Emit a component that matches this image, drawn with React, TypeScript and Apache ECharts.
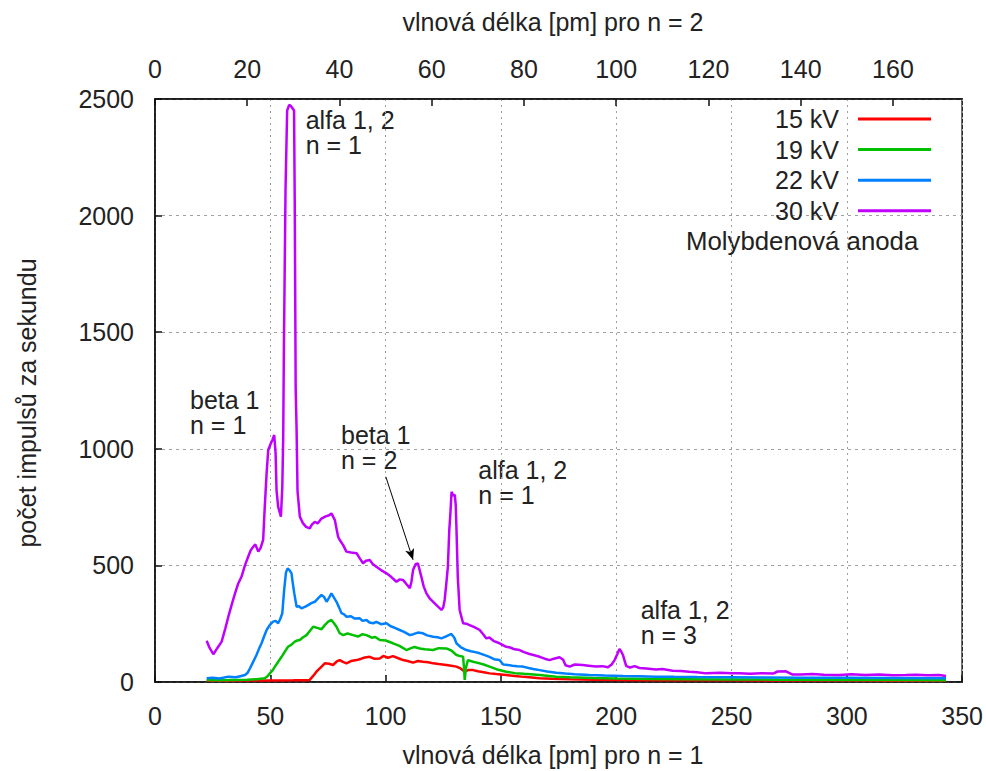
import React, { useEffect, useRef } from "react";
import * as echarts from "echarts";

// wavelength [pm] (n = 1), counts per second
const kv15: [number, number][] = [
  [22.4, 5], [30, 5], [40, 6], [50, 6], [60, 7], [65, 8], [67.1, 9], [68.5, 25], [70, 44], [71.8, 62],
  [73.6, 80], [75.5, 78], [77.2, 73], [78.8, 88], [80.1, 94], [81.5, 86], [83, 80], [85, 90], [87.4, 94],
  [89.5, 100], [91, 105], [93.1, 108], [95, 100], [97.5, 101], [99, 112], [101, 104], [103.2, 111],
  [105.5, 102], [107.6, 94], [109.5, 90], [111.9, 83], [114, 90], [116.2, 87], [118.5, 85], [120.6, 80],
  [123, 77], [126.3, 73], [128.5, 70], [130.7, 66], [132.5, 58], [134.3, 44], [136, 52], [137.9, 51],
  [140, 46], [142.5, 42], [145.1, 37], [148, 34], [152.3, 30], [156, 26], [160, 22], [166.8, 16],
  [172, 14], [180, 12], [190, 10], [200, 9], [215, 8], [230, 7], [250, 7], [270, 6], [300, 6], [320, 5], [343, 5],
];

const kv19: [number, number][] = [
  [22.4, 9], [28, 8], [34, 9], [40, 10], [44, 12], [47.6, 16], [48.8, 25], [49.8, 37], [51, 50], [52, 66],
  [53.5, 88], [54.9, 108], [56.3, 130], [57.7, 151], [59.2, 160], [60.6, 173], [61.7, 178], [62.8, 180],
  [64.2, 192], [65.7, 201], [67.2, 220], [68.6, 237], [70.4, 232], [72.2, 226], [73.7, 245], [75.1, 259],
  [76.5, 266], [77.6, 252], [78.7, 237], [80.1, 209], [81.6, 201], [83.5, 208], [85.9, 201], [88, 195],
  [90, 205], [91.7, 201], [94, 190], [95.5, 193], [97.5, 180], [100, 178], [103.2, 166], [106, 155],
  [109, 137], [111, 145], [112.5, 150], [114.8, 144], [117, 140], [120.6, 137], [123, 145], [126.3, 144],
  [128.5, 135], [130.7, 116], [132, 112], [133.6, 108], [134, 60], [134.3, 9], [134.8, 60], [135.7, 94],
  [137.9, 87], [140, 82], [142.5, 75], [145.1, 66], [148, 55], [152.3, 44], [156, 38], [160, 35],
  [166.8, 30], [174, 23], [180, 20], [190, 17], [200, 15], [215, 13], [230, 12], [250, 11], [270, 10],
  [300, 9], [320, 9], [343, 8],
];

const kv22: [number, number][] = [
  [22.4, 16], [25, 18], [28, 15], [31.8, 23], [35, 20], [37, 25], [39, 30], [40.2, 40], [41.2, 59],
  [42.5, 85], [44, 116], [45, 140], [46.2, 166], [47.3, 195], [48.4, 223], [49.8, 245], [51.2, 259],
  [52.3, 262], [53.4, 252], [54.3, 270], [55.2, 295], [56, 394], [56.8, 470], [57.5, 487], [58.3, 480],
  [59.2, 466], [59.8, 420], [60.4, 380], [61.4, 323], [62.4, 325], [63.5, 316], [65, 322], [66.4, 330],
  [67.8, 338], [69.3, 344], [70.8, 360], [72.2, 373], [73.3, 365], [74.4, 344], [75.5, 362], [76.5, 380],
  [77.6, 362], [78.7, 344], [79.8, 320], [80.9, 295], [82, 290], [83, 280], [85, 282], [86.5, 272],
  [88.8, 273], [90, 262], [91.7, 266], [93, 255], [94.6, 252], [96, 258], [98, 248], [100.4, 252],
  [102, 240], [104, 232], [106.1, 223], [108, 215], [110.5, 201], [112, 205], [114, 212], [116.2, 209],
  [118, 200], [120.6, 194], [122.5, 192], [124.2, 187], [126, 195], [128.5, 206], [129.8, 190],
  [130.7, 166], [132.5, 150], [135, 137], [137, 132], [138.9, 128], [140.8, 123], [143, 115], [145, 108],
  [147, 98], [149.4, 94], [151, 75], [153, 73], [155, 70], [157, 68], [159.5, 66], [162, 60], [164, 56],
  [166.8, 51], [170, 45], [174, 40], [178, 36], [182, 33], [188.4, 30], [195, 28], [202.9, 26], [210, 25],
  [217.3, 23], [225, 22], [235, 21], [250, 20], [265, 19], [280, 18], [300, 18], [320, 17], [343, 16],
];

const kv30: [number, number][] = [
  [22.4, 177], [23.5, 150], [25.3, 119], [27, 145], [28.9, 173], [30.5, 230], [31.8, 280], [33.2, 330],
  [34.7, 380], [36, 420], [37.5, 451], [39, 500], [40.4, 537], [41.5, 565], [42.6, 580], [43.5, 590],
  [44.8, 559], [45.8, 575], [46.9, 609], [47.6, 752], [48.4, 895], [49.1, 995], [50.2, 1023], [51, 1040],
  [51.7, 1059], [52.3, 980], [52.7, 823], [53.4, 752], [54, 730], [54.6, 709], [55.2, 837], [55.6, 1050],
  [55.9, 1440], [56.6, 2110], [57.3, 2450], [58.2, 2475], [58.9, 2470], [60, 2455], [60.3, 2450],
  [60.6, 2050], [61, 1260], [61.4, 1080], [61.8, 820], [62.8, 709], [64.2, 680], [65.5, 665], [67.1, 659],
  [68, 675], [69.3, 687], [70.5, 680], [72.2, 701], [74, 710], [75.5, 715], [76.5, 723], [78, 694],
  [79.4, 623], [80.1, 609], [81.6, 587], [83, 559], [85, 555], [87.4, 552], [88.8, 530], [90.2, 509],
  [91.5, 520], [93.1, 523], [94.5, 505], [96, 494], [98, 480], [100.4, 466], [102.5, 450], [104.7, 430],
  [106, 440], [107.6, 437], [109, 420], [110.5, 402], [111.2, 430], [111.9, 480], [113, 505], [114, 509],
  [115.5, 451], [116.5, 410], [117.7, 380], [119, 360], [120.6, 344], [122.5, 325], [124.2, 309],
  [125, 320], [125.6, 352], [126.3, 420], [127, 494], [127.6, 650], [128.1, 723], [128.6, 816],
  [129.3, 800], [130, 802], [130.4, 760], [130.7, 666], [131.3, 450], [132.1, 309], [133.6, 252],
  [135, 250], [136.4, 244], [138.5, 235], [140.8, 223], [142.3, 205], [143.7, 187], [145, 191], [147, 175],
  [149.4, 166], [152.3, 151], [154, 148], [156, 140], [158.1, 137], [160, 128], [162.4, 120], [164.5, 115],
  [166.8, 108], [169, 100], [171.1, 94], [173, 100], [175.4, 106], [177, 95], [178, 72], [179.8, 66],
  [182, 75], [185.5, 73], [188, 70], [191.3, 66], [194, 68], [196.4, 63], [198, 75], [199.3, 94],
  [200.5, 120], [201.4, 142], [202.2, 130], [202.9, 116], [204.3, 69], [206, 62], [208, 68], [210.1, 60],
  [213, 58], [217.3, 54], [220, 56], [224.5, 48], [228, 47], [231.7, 44], [235, 42], [239, 37], [245, 40],
  [250, 38], [253.4, 37], [258, 35], [263, 38], [268, 36], [270, 45], [273.6, 46], [276.5, 32], [280, 32],
  [285, 34], [290, 31], [296.7, 30], [302, 33], [308, 30], [314, 32], [320, 29], [325.6, 30], [330, 31],
  [335, 29], [340, 30], [343, 26],
];

const seriesNames = ["15 kV", "19 kV", "22 kV", "30 kV"];
const seriesColors = ["#ff0000", "#00c000", "#0080ff", "#c000ff"];
const seriesData = [kv15, kv19, kv22, kv30];

// arrow "beta 1, n = 2": from label to peak (data coords)
const arrowFrom: [number, number] = [100.1, 880];
const arrowTo: [number, number] = [111.9, 524];

const FONT = '"Liberation Sans", Arial, sans-serif';
const TXT = "#222";

export default function App() {
  const ref = useRef<HTMLDivElement>(null);
  useEffect(() => {
    if (!ref.current) return;
    const chart = echarts.init(ref.current, null, { renderer: "svg" });
    const text = (t: string, x: number, y: number, extra: any = {}) => ({
      type: "text",
      x,
      y,
      silent: true,
      ...extra,
      style: {
        text: t,
        fill: TXT,
        fontSize: 25,
        fontFamily: FONT,
        lineHeight: 25,
        align: "left",
        verticalAlign: "middle",
        ...(extra.style || {}),
      },
    });
    const option: any = {
      animation: false,
      backgroundColor: "#fff",
      grid: {
        left: 155,
        top: 99,
        right: 23,
        bottom: 89,
        show: true,
        borderColor: "#111",
        borderWidth: 1.5,
        backgroundColor: "transparent",
      },
      legend: {
        data: seriesNames,
        orient: "vertical",
        right: 55,
        top: 106.5,
        padding: 0,
        align: "right",
        icon: "rect",
        itemWidth: 73,
        itemHeight: 3,
        itemGap: 5.6,
        selectedMode: false,
        textStyle: {
          fontSize: 25,
          fontFamily: FONT,
          color: TXT,
          lineHeight: 25,
          padding: [0, 14, 0, 0],
        },
      },
      xAxis: [
        {
          type: "value",
          position: "bottom",
          min: 0,
          max: 350,
          interval: 50,
          axisLine: { show: true, lineStyle: { color: "#111", width: 1.5 } },
          axisTick: { show: true, inside: true, length: 7, lineStyle: { color: "#111", width: 1.5 } },
          axisLabel: { margin: 21, fontSize: 25, fontFamily: FONT, color: TXT, formatter: (v: number) => String(v) },
          splitLine: { show: true, lineStyle: { color: "#a0a0a0", width: 1, type: [2, 4] } },
        },
        {
          type: "value",
          position: "top",
          min: 0,
          max: 175,
          interval: 20,
          axisLine: { show: true, lineStyle: { color: "#111", width: 1.5 } },
          axisTick: { show: true, inside: true, length: 7, lineStyle: { color: "#111", width: 1.5 } },
          axisLabel: {
            margin: 18,
            fontSize: 25,
            fontFamily: FONT,
            color: TXT,
            showMaxLabel: false,
            formatter: (v: number) => String(v),
          },
          splitLine: { show: false },
        },
      ],
      yAxis: {
        type: "value",
        min: 0,
        max: 2500,
        interval: 500,
        axisLine: { show: true, lineStyle: { color: "#111", width: 1.5 } },
        axisTick: { show: true, inside: true, length: 7, lineStyle: { color: "#111", width: 1.5 } },
        axisLabel: { margin: 21, fontSize: 25, fontFamily: FONT, color: TXT, formatter: (v: number) => String(v) },
        splitLine: { show: true, lineStyle: { color: "#a0a0a0", width: 1, type: [3, 4] } },
      },
      series: seriesData.map((d, i) => ({
        name: seriesNames[i],
        type: "line",
        xAxisIndex: 0,
        yAxisIndex: 0,
        data: d,
        showSymbol: false,
        symbol: "none",
        color: seriesColors[i],
        lineStyle: { color: seriesColors[i], width: 2.5 },
        emphasis: { disabled: true },
        z: 2 + i,
        markLine:
          i === 3
            ? {
                silent: true,
                symbol: ["none", "arrow"],
                symbolSize: [7, 11],
                label: { show: false },
                lineStyle: { color: "#000", width: 1, type: "solid" },
                data: [[{ coord: arrowFrom }, { coord: arrowTo }]],
              }
            : undefined,
      })),
      graphic: [
        text("vlnová délka [pm] pro n = 2", 553, 22, { style: { align: "center" } }),
        text("vlnová délka [pm] pro n = 1", 553, 755, { style: { align: "center" } }),
        text("počet impulsů za sekundu", 27, 403, { rotation: Math.PI / 2, style: { align: "center" } }),
        text("alfa 1, 2\nn = 1", 305.7, 132.7),
        text("beta 1\nn = 1", 190, 412.5),
        text("beta 1\nn = 2", 341, 447.5),
        text("alfa 1, 2\nn = 1", 478.3, 482),
        text("alfa 1, 2\nn = 3", 640.7, 622),
        text("Molybdenová anoda", 918.3, 240.6, { style: { align: "right", fontSize: 25.8 } }),
      ],
    };
    chart.setOption(option);
    return () => chart.dispose();
  }, []);
  return (
    <div
      ref={ref}
      style={{ position: "absolute", left: 0, top: 0, width: 986, height: 771, background: "#fff" }}
    />
  );
}
